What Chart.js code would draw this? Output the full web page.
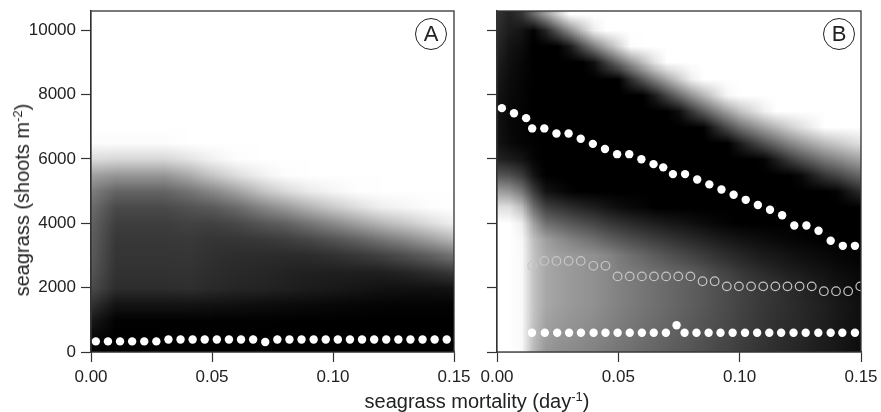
<!DOCTYPE html>
<html>
<head>
<meta charset="utf-8">
<script src="https://cdn.jsdelivr.net/npm/chart.js@4.4.0/dist/chart.umd.min.js"></script>
<style>
  body { margin: 0; background: #fff; }
  #wrap { position: relative; width: 881px; height: 412px; overflow: hidden; font-family: 'Liberation Sans', Arial, sans-serif; color: #222; }
  canvas { position: absolute; top: 0; }
  #cA { left: 0; }
  #cB { left: 476px; }
  .ttl { position: absolute; font-size: 20px; line-height: 20px; white-space: nowrap; }
  .ttl sup { font-size: 0.65em; vertical-align: 0; position: relative; top: -0.55em; line-height: 0; }
  #xt { left: 477px; top: 391px; transform: translateX(-50%); }
  #yt { left: 22px; top: 200px; transform: translate(-50%, -50%) rotate(-90deg); }
  .tag { position: absolute; width: 30px; height: 30px; border: 1px solid #222; border-radius: 50%; font-size: 22px; line-height: 30px; text-align: center; }
</style>
</head>
<body>
<div id="wrap">
  <canvas id="cA" width="476" height="412"></canvas>
  <canvas id="cB" width="405" height="412"></canvas>
  <div class="ttl" id="yt">seagrass (shoots m<sup>-2</sup>)</div>
  <div class="ttl" id="xt">seagrass mortality (day<sup>-1</sup>)</div>
  <div class="tag" style="left:415px;top:18px">A</div>
  <div class="tag" style="left:823px;top:18px">B</div>
</div>
<script>
// axis ticks
const xTicks = [0, 0.05, 0.10, 0.15];
const yTicks = [0, 2000, 4000, 6000, 8000, 10000];

// density grid rows (seagrass, shoots m-2), shared by both panels
const rowsY = [0, 500, 1000, 1500, 2000, 2500, 3000, 3500, 4000, 4500, 5000,
  5500, 6000, 6500, 7000, 7500, 8000, 8500, 9000, 9500, 10000, 10500];

// panel A grid: one column per mortality value, gray 0 = black .. 255 = white, bottom -> top
const colsA = [0, 0.01, 0.02, 0.03, 0.04, 0.05, 0.06, 0.07, 0.08, 0.09, 0.10, 0.11, 0.12, 0.13, 0.14, 0.15];
const grayA = [
  [5,10,25,50,75,85,90,94,98,108,125,160,220,252,255,255,255,255,255,255,255,255],
  [0,0,2,20,45,50,53,56,62,74,100,150,215,252,255,255,255,255,255,255,255,255],
  [0,0,2,20,45,50,53,56,62,74,100,150,215,252,255,255,255,255,255,255,255,255],
  [0,0,2,20,45,50,53,56,62,74,100,150,215,252,255,255,255,255,255,255,255,255],
  [0,0,2,20,47,51,54,58,66,82,115,170,226,255,255,255,255,255,255,255,255,255],
  [0,0,2,18,42,45,48,53,65,90,136,197,242,255,255,255,255,255,255,255,255,255],
  [0,0,2,16,38,41,45,54,72,106,162,222,253,255,255,255,255,255,255,255,255,255],
  [0,0,2,14,36,39,44,57,85,131,193,240,255,255,255,255,255,255,255,255,255,255],
  [0,0,1,12,32,35,43,62,97,154,217,253,255,255,255,255,255,255,255,255,255,255],
  [0,0,1,10,28,32,44,71,117,179,235,255,255,255,255,255,255,255,255,255,255,255],
  [0,0,1,8,25,31,49,84,138,202,246,255,255,255,255,255,255,255,255,255,255,255],
  [0,0,1,6,22,31,56,99,161,222,254,255,255,255,255,255,255,255,255,255,255,255],
  [0,0,0,5,18,31,65,118,183,239,255,255,255,255,255,255,255,255,255,255,255,255],
  [0,0,0,4,17,37,79,137,202,246,255,255,255,255,255,255,255,255,255,255,255,255],
  [0,0,0,4,17,46,95,160,221,253,255,255,255,255,255,255,255,255,255,255,255,255],
  [0,0,0,4,19,57,115,184,241,255,255,255,255,255,255,255,255,255,255,255,255,255]
];

// panel B grid
const colsB = [0, 0.005, 0.01, 0.015, 0.02, 0.025, 0.03, 0.035, 0.04, 0.045, 0.05, 0.055, 0.06, 0.065, 0.07, 0.075,
  0.08, 0.085, 0.09, 0.095, 0.10, 0.105, 0.11, 0.115, 0.12, 0.125, 0.13, 0.135, 0.14, 0.145, 0.15];
const grayB = [
  [255,255,255,255,255,255,255,255,255,225,158,88,35,20,18,18,20,25,30,38,45,50],
  [255,255,255,255,255,255,255,255,255,222,150,80,28,10,8,8,10,12,15,20,28,35],
  [250,250,250,250,250,250,250,248,238,190,120,60,20,5,4,4,5,6,8,12,20,51],
  [185,190,193,195,195,195,195,190,160,110,60,20,5,2,1,0,0,0,0,0,3,104],
  [151,158,163,168,168,168,168,159,112,65,19,0,0,0,0,0,0,0,0,0,37,157],
  [144,150,155,160,160,160,160,144,100,55,11,0,0,0,0,0,0,0,0,0,90,208],
  [139,145,149,154,154,154,154,131,88,45,3,0,0,0,0,0,0,0,0,26,142,255],
  [134,140,145,149,149,149,149,120,79,37,0,0,0,0,0,0,0,0,0,78,191,255],
  [130,135,140,144,144,144,144,110,70,30,0,0,0,0,0,0,0,0,17,128,239,255],
  [123,129,133,137,137,137,136,97,59,21,0,0,0,0,0,0,0,0,63,171,255,255],
  [117,122,126,130,130,130,123,87,51,14,0,0,0,0,0,0,0,0,107,213,255,255],
  [112,117,120,124,124,124,112,78,43,9,0,0,0,0,0,0,0,45,149,253,255,255],
  [106,111,114,118,118,118,103,70,37,5,0,0,0,0,0,0,0,87,189,255,255,255],
  [101,105,109,112,112,112,93,62,31,0,0,0,0,0,0,0,28,128,228,255,255,255],
  [95,100,103,106,106,106,84,55,25,0,0,0,0,0,0,0,70,167,255,255,255,255],
  [90,94,97,100,100,100,76,48,21,0,0,0,0,0,0,15,109,204,255,255,255,255],
  [85,88,91,94,94,94,68,42,16,0,0,0,0,0,0,54,147,239,255,255,255,255],
  [79,83,85,88,88,84,60,36,11,0,0,0,0,0,2,92,182,255,255,255,255,255],
  [73,76,79,81,81,74,52,29,7,0,0,0,0,0,40,128,216,255,255,255,255,255],
  [68,71,73,75,75,66,45,24,3,0,0,0,0,0,77,162,248,255,255,255,255,255],
  [61,64,66,68,68,57,38,19,0,0,0,0,0,28,111,194,255,255,255,255,255,255],
  [56,58,60,62,62,49,32,15,0,0,0,0,0,55,136,217,255,255,255,255,255,255],
  [50,53,54,56,56,43,27,12,0,0,0,0,4,82,161,239,255,255,255,255,255,255],
  [46,48,49,51,51,37,23,9,0,0,0,0,30,107,183,255,255,255,255,255,255,255],
  [41,43,45,46,44,31,19,6,0,0,0,0,57,131,205,255,255,255,255,255,255,255],
  [37,39,40,41,38,27,15,4,0,0,0,9,81,152,224,255,255,255,255,255,255,255],
  [32,34,35,36,32,22,12,2,0,0,0,31,100,170,239,255,255,255,255,255,255,255],
  [28,29,30,31,26,18,9,0,0,0,0,54,121,188,255,255,255,255,255,255,255,255],
  [23,24,24,25,20,13,6,0,0,0,4,69,135,200,255,255,255,255,255,255,255,255],
  [18,19,19,20,15,10,4,0,0,0,25,88,151,213,255,255,255,255,255,255,255,255],
  [14,14,15,15,11,7,3,0,0,0,44,104,164,224,255,255,255,255,255,255,255,255]
];

// equilibria, panel A
const eqAx = [0.002,0.007,0.012,0.017,0.022,0.027,0.032,0.037,0.042,0.047,0.052,0.057,0.062,0.067,0.072,
  0.077,0.082,0.087,0.092,0.097,0.102,0.107,0.112,0.117,0.122,0.127,0.132,0.137,0.142,0.147];
const eqAy = [330,330,330,330,330,330,390,390,390,390,390,390,390,390,310,
  390,390,390,390,390,390,390,390,390,390,390,390,390,390,390];

// equilibria, panel B: upper stable, unstable (open), lower stable
const upBx = [0.002,0.007,0.012,0.0145,0.0195,0.0245,0.0295,0.0345,0.0395,0.0445,0.0495,0.0545,0.0595,0.0645,0.0685,0.0725,
  0.0775,0.0825,0.0875,0.0925,0.0975,0.1025,0.1075,0.1125,0.1175,0.1225,0.1275,0.1325,0.1375,0.1425,0.1475];
const upBy = [7580,7420,7270,6950,6950,6790,6790,6630,6470,6310,6150,6150,5990,5840,5740,5530,
  5530,5360,5210,5050,4890,4730,4570,4420,4250,3930,3930,3770,3460,3300,3300];
const openBx = [0.0145,0.0195,0.0245,0.0295,0.0345,0.0397,0.0447,0.0497,0.0547,0.0597,0.0647,0.0697,0.0747,0.0797,
  0.0847,0.0897,0.0947,0.0997,0.1047,0.1097,0.1147,0.1197,0.1247,0.1297,0.1347,0.1397,0.1447,0.1497];
const openBy = [2680,2830,2830,2830,2830,2680,2680,2350,2350,2350,2350,2350,2350,2350,
  2200,2200,2040,2040,2040,2040,2040,2040,2040,2040,1890,1890,1890,2040];
const lowBx = [0.0144,0.0197,0.0248,0.0297,0.0346,0.0398,0.0447,0.0497,0.0547,0.0597,0.0646,0.0696,0.074,0.0773,
  0.0822,0.0872,0.0921,0.0971,0.1022,0.1072,0.1122,0.1171,0.1222,0.1272,0.1324,0.1375,0.1423,0.1475];
const lowBy = [600,600,600,600,600,600,600,600,600,600,600,600,830,600,
  600,600,600,600,600,600,600,600,600,600,600,600,600,600];

const FONT = { family: "'Liberation Sans', Arial, sans-serif", size: 17 };
const INK = '#222';

// draws the gray density grid under the points, using the chart scales
function heatmap(cols, grid) {
  return {
    id: 'heatmap',
    beforeDatasetsDraw(chart) {
      const { ctx, chartArea: a, scales: { x, y } } = chart;
      const nc = cols.length, nr = rowsY.length;
      const off = document.createElement('canvas');
      off.width = nc; off.height = nr;
      const octx = off.getContext('2d');
      const img = octx.createImageData(nc, nr);
      for (let i = 0; i < nc; i++) {
        for (let j = 0; j < nr; j++) {
          const p = ((nr - 1 - j) * nc + i) * 4;
          const v = grid[i][j];
          img.data[p] = v; img.data[p + 1] = v; img.data[p + 2] = v; img.data[p + 3] = 255;
        }
      }
      octx.putImageData(img, 0, 0);
      const hx = (cols[1] - cols[0]) / 2, hy = (rowsY[1] - rowsY[0]) / 2;
      const left = x.getPixelForValue(cols[0] - hx);
      const right = x.getPixelForValue(cols[nc - 1] + hx);
      const top = y.getPixelForValue(rowsY[nr - 1] + hy);
      const bottom = y.getPixelForValue(rowsY[0] - hy);
      ctx.save();
      ctx.beginPath();
      ctx.rect(a.left, a.top, a.right - a.left, a.bottom - a.top);
      ctx.clip();
      ctx.imageSmoothingEnabled = true;
      ctx.imageSmoothingQuality = 'low';
      ctx.drawImage(off, left, top, right - left, bottom - top);
      ctx.restore();
    }
  };
}

const frame = {
  id: 'frame',
  afterDraw(chart) {
    const { ctx, chartArea: a } = chart;
    ctx.save();
    ctx.strokeStyle = '#333';
    ctx.lineWidth = 1.3;
    ctx.strokeRect(a.left, a.top, a.right - a.left, a.bottom - a.top);
    ctx.restore();
  }
};

function pts(xs, ys) {
  return xs.map((x, i) => ({ x: x, y: ys[i] }));
}

function filled(xs, ys) {
  return { data: pts(xs, ys), pointRadius: 4.2, pointBackgroundColor: '#fff', pointBorderWidth: 0, showLine: false, clip: 0 };
}

function open(xs, ys) {
  return { data: pts(xs, ys), pointRadius: 4.3, pointBackgroundColor: 'rgba(0,0,0,0)', pointBorderColor: '#c6c6c6',
    pointBorderWidth: 1.2, showLine: false, clip: 0 };
}

function panel(id, cols, grid, datasets, yLabels, yWidth, padRight) {
  const gridOpts = { drawOnChartArea: false, drawTicks: true, tickLength: 10, tickColor: '#333', tickWidth: 1.2 };
  const border = { display: true, color: '#333', width: 1.3 };
  return new Chart(document.getElementById(id), {
    type: 'scatter',
    data: { datasets: datasets },
    options: {
      responsive: false,
      animation: false,
      events: [],
      layout: { padding: { left: 0, right: padRight, top: 11, bottom: 0 } },
      plugins: { legend: { display: false }, tooltip: { enabled: false } },
      scales: {
        x: {
          type: 'linear', min: 0, max: 0.15,
          afterBuildTicks: s => { s.ticks = xTicks.map(v => ({ value: v })); },
          afterFit: s => { s.height = 60; s.paddingLeft = 0; s.paddingRight = 0; },
          ticks: { callback: v => v.toFixed(2), font: FONT, color: INK, padding: 5, maxRotation: 0, autoSkip: false },
          grid: gridOpts, border: border
        },
        y: {
          type: 'linear', min: 0, max: 10600,
          afterBuildTicks: s => { s.ticks = yTicks.map(v => ({ value: v })); },
          afterFit: s => { s.width = yWidth; s.paddingTop = 0; s.paddingBottom = 0; },
          ticks: { callback: v => (yLabels ? String(v) : ''), font: FONT, color: INK, padding: 5 },
          grid: gridOpts, border: border
        }
      }
    },
    plugins: [heatmap(cols, grid), frame]
  });
}

panel('cA', colsA, grayA, [filled(eqAx, eqAy)], true, 91, 22);
panel('cB', colsB, grayB, [filled(upBx, upBy), open(openBx, openBy), filled(lowBx, lowBy)], false, 21, 20);
</script>
</body>
</html>
